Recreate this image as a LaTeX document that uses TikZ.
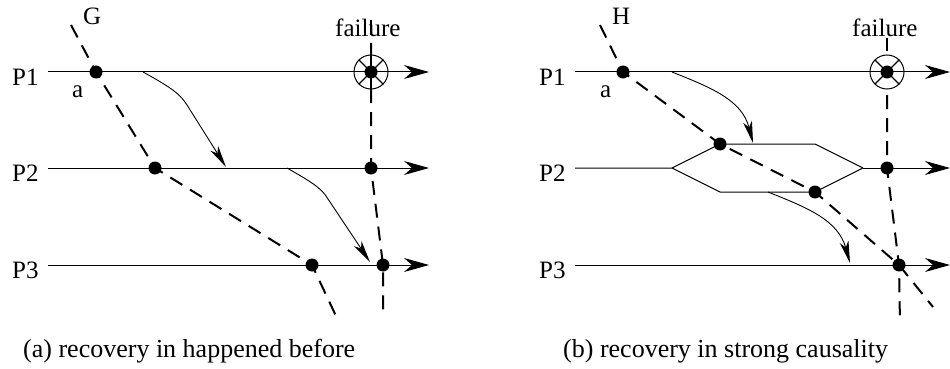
\documentclass[tikz,border=0pt]{standalone}
\usepackage{fontspec}
\setmainfont{Liberation Serif}
\usetikzlibrary{arrows.meta}
\begin{document}
\begin{tikzpicture}[x=1pt,y=-1pt,
  lbl/.style={font=\fontsize{25}{28}\selectfont, inner sep=0pt, anchor=base west},
  captxt/.style={font=\fontsize{26}{29}\selectfont, inner sep=0pt, anchor=base west},
  dot/.style={circle, fill=black, inner sep=0pt, minimum size=13pt},
  axis/.style={line width=1pt, -{Stealth[length=25pt,width=14pt,inset=8pt]}},
  msg/.style={line width=0.9pt, -{Stealth[length=22pt,width=9pt,inset=6pt]}},
  cut/.style={line width=2pt, dash pattern=on 14pt off 9pt},
  hexa/.style={line width=1pt},
  fmark/.style={circle, draw, line width=1pt, fill=white, minimum size=34pt, inner sep=0pt}
]
\useasboundingbox (0,0) rectangle (950,369);

% ---------------- left panel ----------------
\node[lbl] (lp1) at (12,85) {P1};
\node[lbl] (lp2) at (12,181) {P2};
\node[lbl] (lp3) at (12,278) {P3};
\coordinate (ls1) at (48,72);  \coordinate (le1) at (429,72);
\coordinate (ls2) at (48,168); \coordinate (le2) at (429,168);
\coordinate (ls3) at (48,265); \coordinate (le3) at (429,265);
\draw[axis] (ls1) -- (le1);
\draw[axis] (ls2) -- (le2);
\draw[axis] (ls3) -- (le3);

% cut G
\coordinate (g0) at (71,25);
\coordinate (ga) at (96,72);
\coordinate (gb) at (155,168);
\coordinate (gc) at (312,265);
\coordinate (g1) at (336,316);
\draw[cut] (g0) -- (ga) -- (gb) -- (gc) -- (g1);
\node[lbl] (G) at (83,25) {G};
\node[lbl] (la) at (72,97) {a};

% failure line
\coordinate (f0) at (371,20);
\coordinate (ff) at (371,72);
\coordinate (fb) at (371,168);
\coordinate (fc) at (383,265);
\coordinate (f1) at (383,314);
\draw[cut] (f0) -- (ff) -- (fb) -- (fc) -- (f1);
\node[lbl, fill=white, inner sep=1pt] (lfail) at (334,37) {failure};
\draw[line width=2pt] (f0) -- (371,35);

% failure marker left
\node[fmark] (lcirc) at (ff) {};
\draw[line width=1.3pt] (371,53) -- (371,97);
\draw[line width=1.3pt] (lcirc.north east) -- (lcirc.south west);
\draw[line width=1.3pt] (lcirc.north west) -- (lcirc.south east);
\draw[line width=1pt] (lcirc.west) -- (lcirc.east);

% messages left
\draw[msg] (143,72) .. controls (172,88) and (180,94) .. (187,105) -- (226,167);
\draw[msg] (287,168) .. controls (315,184) and (322,189) .. (328,199) -- (370,262);

% dots left
\node[dot] (da) at (ga) {};
\node[dot] (db) at (gb) {};
\node[dot] (dc) at (gc) {};
\node[dot] (dff) at (ff) {};
\node[dot] (dfb) at (fb) {};
\node[dot] (dfc) at (fc) {};

% ---------------- right panel ----------------
\node[lbl] (rp1) at (539,85) {P1};
\node[lbl] (rp2) at (539,181) {P2};
\node[lbl] (rp3) at (539,278) {P3};
\coordinate (rs1) at (575,72);  \coordinate (re1) at (950,72);
\coordinate (rs2) at (575,168); \coordinate (re2) at (950,168);
\coordinate (rs3) at (575,265); \coordinate (re3) at (950,265);
\coordinate (hl) at (672,168);
\coordinate (hr) at (863,168);
\coordinate (hul) at (720,144); \coordinate (hur) at (815,144);
\coordinate (hll) at (720,192); \coordinate (hlr) at (815,192);
\draw[axis] (rs1) -- (re1);
\draw[hexa] (rs2) -- (hl) -- (hul) -- (hur) -- (hr);
\draw[hexa] (hl) -- (hll) -- (hlr) -- (hr);
\draw[axis] (hr) -- (re2);
\draw[axis] (rs3) -- (re3);

% cut H
\coordinate (h0) at (600,25);
\coordinate (ha) at (623,72);
\coordinate (hb) at (720,144);
\coordinate (hc) at (815,192);
\coordinate (hd) at (899,265);
\coordinate (h1) at (933,307);
\draw[cut] (h0) -- (ha) -- (hb) -- (hc) -- (hd) -- (h1);
\node[lbl] (H) at (612,25) {H};
\node[lbl] (ra) at (600,97) {a};

% failure line right
\coordinate (q0) at (887,38);
\coordinate (qf) at (887,72);
\coordinate (qb) at (887,168);
\coordinate (qc) at (899,265);
\coordinate (q1) at (900,324);
\draw[cut] (qf) -- (qb) -- (qc) -- (q1);
\draw[line width=2pt] (q0) -- (887,51);
\node[lbl] (rfail) at (852,37) {failure};

\node[fmark] (rcirc) at (qf) {};
\draw[line width=1.3pt] (rcirc.north east) -- (rcirc.south west);
\draw[line width=1.3pt] (rcirc.north west) -- (rcirc.south east);
\draw[line width=1pt] (rcirc.west) -- (rcirc.east);

% messages right
\draw[msg] (672,72) .. controls (712,88) and (742,100) .. (753,143);
\draw[msg] (768,192) .. controls (808,208) and (838,220) .. (850,263);

% dots right
\node[dot] (ea) at (ha) {};
\node[dot] (eb) at (hb) {};
\node[dot] (ec) at (hc) {};
\node[dot] (eqf) at (qf) {};
\node[dot] (eqb) at (qb) {};
\node[dot] (eqc) at (qc) {};

% captions
\node[captxt] (capa) at (23,357) {(a) recovery in happened before};
\node[captxt] (capb) at (563,357) {(b) recovery in strong causality};
\end{tikzpicture}
\end{document}
